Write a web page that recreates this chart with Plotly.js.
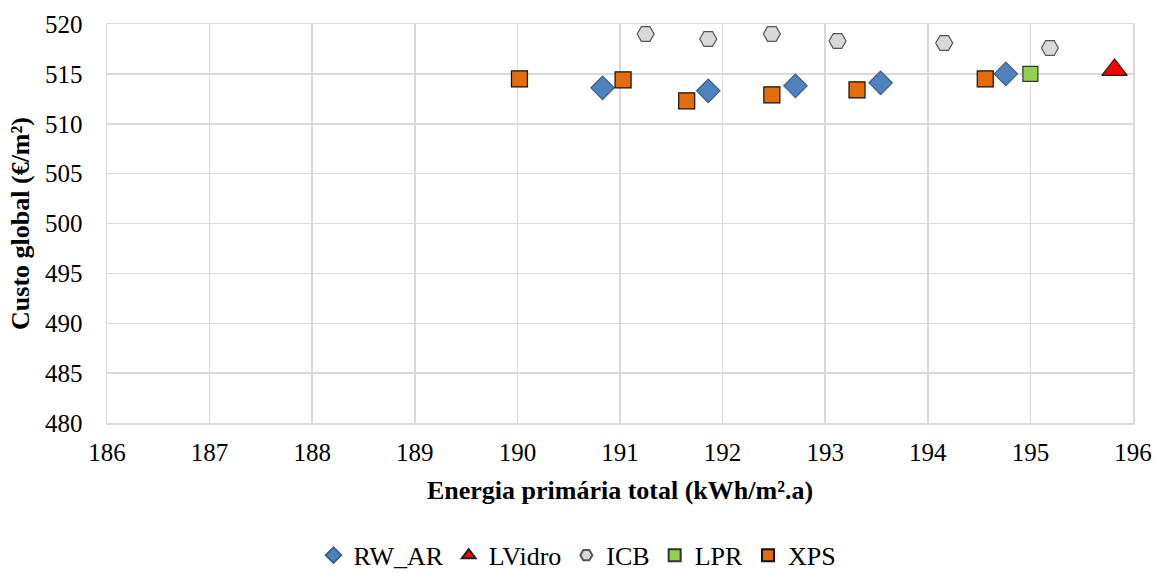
<!DOCTYPE html>
<html>
<head>
<meta charset="utf-8">
<script src="https://cdn.plot.ly/plotly-3.0.1.min.js"></script>
<style>html,body{margin:0;padding:0;background:#fff}#chart{width:1155px;height:573px}</style>
</head>
<body>
<div id="chart"></div>
<script>
// Energia primária total (kWh/m².a) e custo global (€/m²) por solução de isolamento
const rwX = [190.83, 191.86, 192.71, 193.54, 194.76];
const rwY = [513.6, 513.3, 513.8, 514.1, 515.0];
const lvX = [195.82];
const lvY = [515.4];
const icbX = [191.25, 191.86, 192.48, 193.12, 194.16, 195.19];
const icbY = [519.0, 518.5, 519.0, 518.3, 518.1, 517.6];
const lprX = [195.0];
const lprY = [515.0];
const xpsX = [190.02, 191.03, 191.65, 192.48, 193.31, 194.56];
const xpsY = [514.5, 514.4, 512.3, 512.9, 513.4, 514.5];

const serif = '"Liberation Serif", "Times New Roman", serif';

function series(name, x, y, symbol, size, color, lineColor) {
  return {
    type: 'scatter', mode: 'markers', name: name, x: x, y: y,
    marker: {symbol: symbol, size: size, color: color, line: {color: lineColor, width: 1.2}},
    cliponaxis: false
  };
}

const data = [
  series('RW_AR', rwX, rwY, 'diamond', 18, '#4f81bd', '#3a5f8a'),
  series('LVidro', lvX, lvY, 'triangle-up', 22, '#ff0000', '#222222'),
  series('ICB', icbX, icbY, 'hexagon2', 17, '#d9d9d9', '#555555'),
  series('LPR', lprX, lprY, 'square', 15, '#92d050', '#333333'),
  series('XPS', xpsX, xpsY, 'square', 16, '#e46c0a', '#111111')
];

const layout = {
  width: 1155, height: 573,
  margin: {l: 107, r: 22, t: 24, b: 150},
  paper_bgcolor: '#fff', plot_bgcolor: '#fff',
  font: {family: serif, size: 25, color: '#000'},
  showlegend: true,
  legend: {orientation: 'h', x: 0.5, xanchor: 'center', xref: 'container',
           y: 0.031, yanchor: 'middle', yref: 'container',
           itemsizing: 'constant', font: {family: serif, size: 26, color: '#000'}, tracegroupgap: 0},
  xaxis: {
    range: [186, 196], dtick: 1, tick0: 186,
    showgrid: true, gridcolor: '#d9d9d9', gridwidth: 1.5,
    zeroline: false, showline: true, linecolor: '#d9d9d9', linewidth: 1.5, mirror: true,
    ticks: '', ticklabelstandoff: 6, tickfont: {family: serif, size: 25, color: '#000'},
    title: {text: '<b>Energia primária total (kWh/m².a)</b>', font: {family: serif, size: 26, color: '#000'}, standoff: 16}
  },
  yaxis: {
    range: [480, 520], dtick: 5, tick0: 480,
    showgrid: true, gridcolor: '#d9d9d9', gridwidth: 1.5,
    zeroline: false, showline: true, linecolor: '#d9d9d9', linewidth: 1.5, mirror: true,
    ticks: '', ticklabelstandoff: 18, tickfont: {family: serif, size: 25, color: '#000'},
    title: {text: '<b>Custo global (€/m²)</b>', font: {family: serif, size: 26, color: '#000'}, standoff: 8}
  }
};

Plotly.newPlot('chart', data, layout, {displayModeBar: false, staticPlot: true});
</script>
</body>
</html>
